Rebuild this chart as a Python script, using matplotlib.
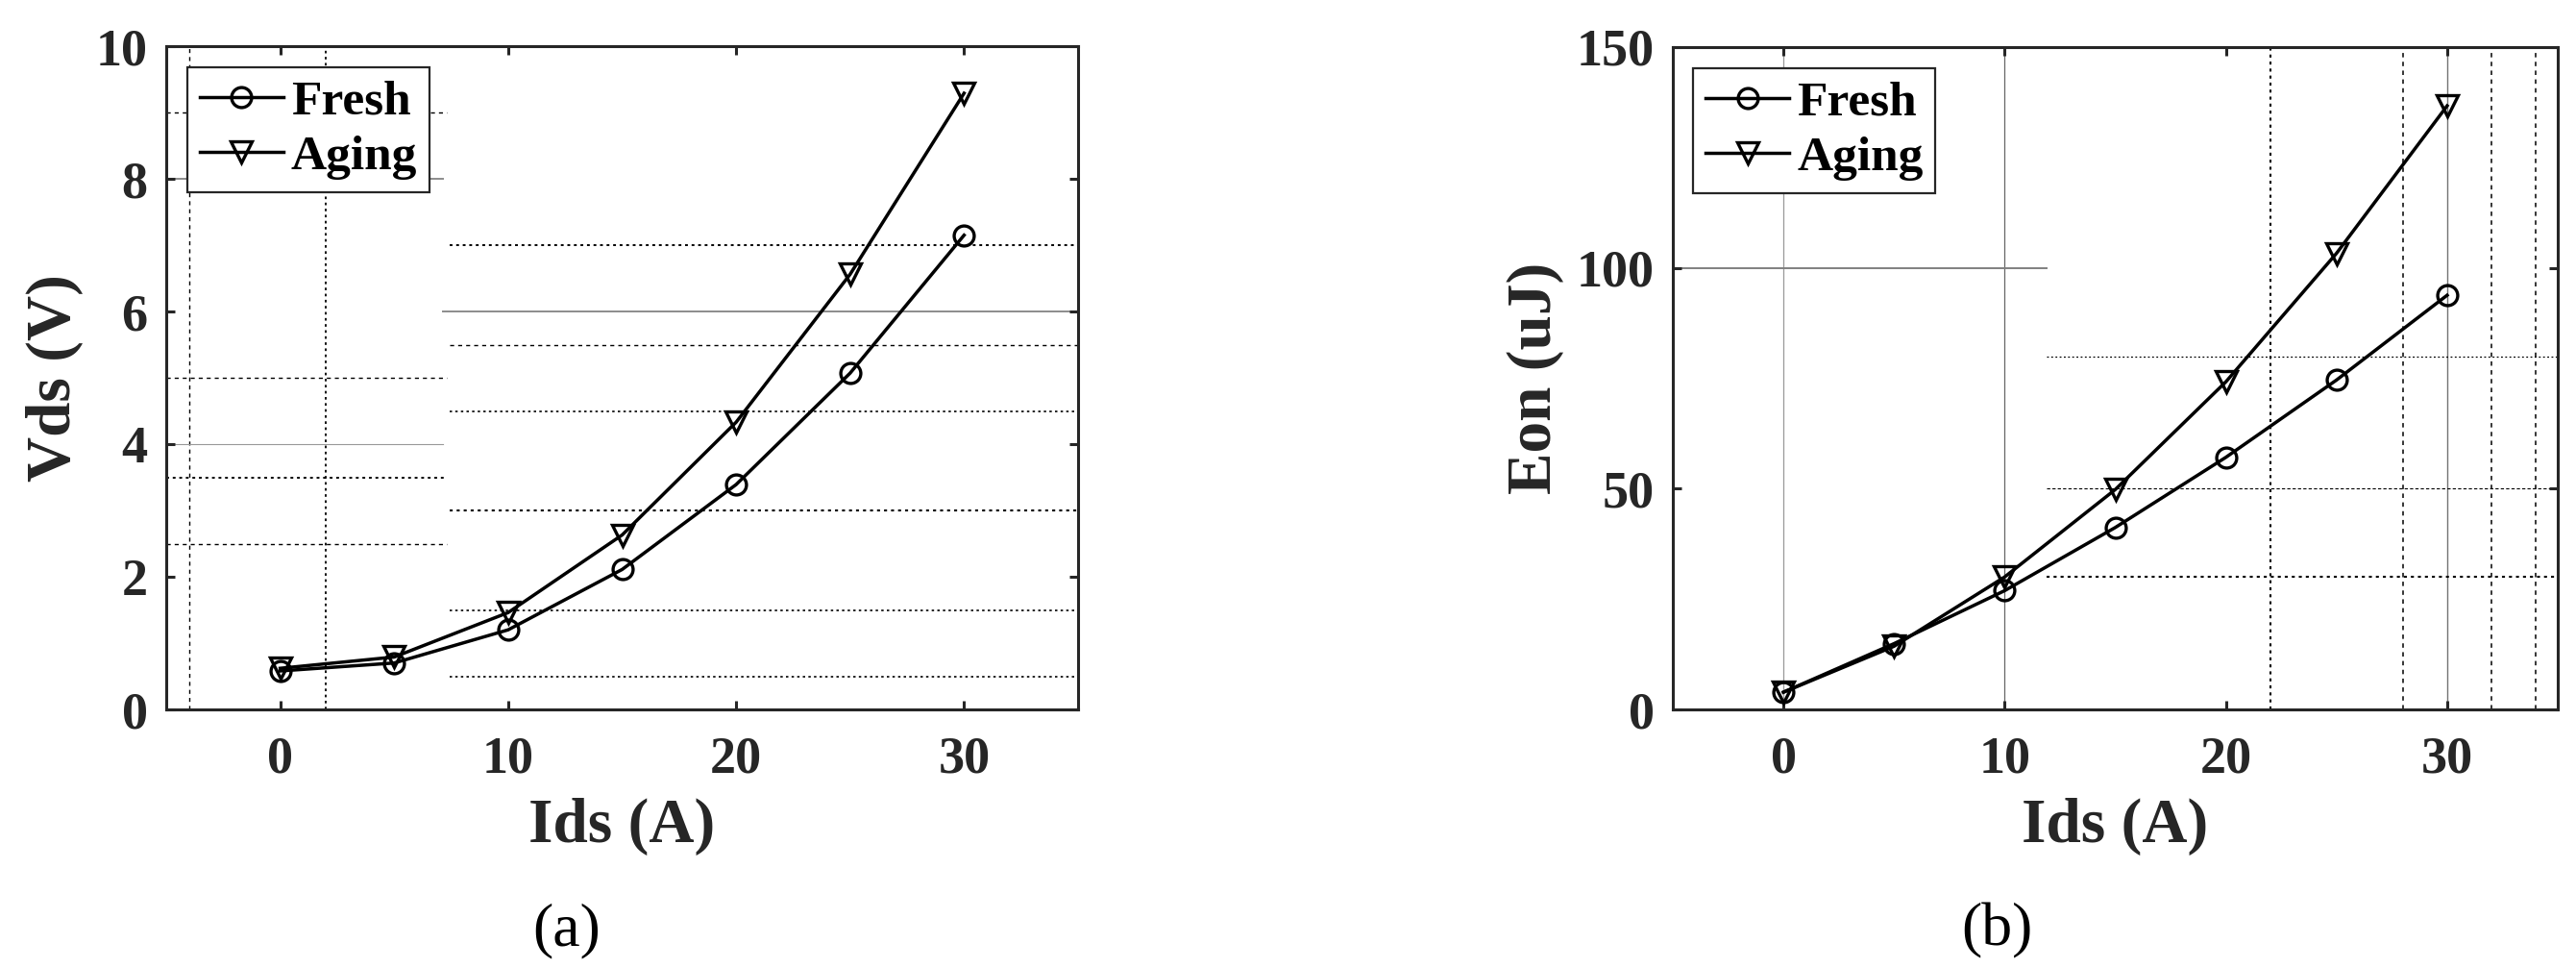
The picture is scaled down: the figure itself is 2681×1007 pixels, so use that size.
import matplotlib
matplotlib.use("Agg")
import matplotlib.pyplot as plt

# ---- data ----
ids = [0, 5, 10, 15, 20, 25, 30]
vds_fresh = [0.58, 0.70, 1.20, 2.11, 3.39, 5.07, 7.15]
vds_aging = [0.62, 0.79, 1.46, 2.63, 4.33, 6.56, 9.29]
eon_fresh = [3.9, 14.9, 26.9, 41.2, 57.1, 74.6, 93.8]
eon_aging = [3.9, 14.3, 30.0, 49.8, 74.2, 103.3, 136.7]
series_labels = ["Fresh", "Aging"]
xticks = [0, 10, 20, 30]
yticks_a = [0, 2, 4, 6, 8, 10]
yticks_b = [0, 50, 100, 150]

FONT = "Liberation Serif"
DARK = "#262626"

fig = plt.figure(figsize=(26.81, 10.07), dpi=100)
axA = fig.add_axes([173/2681, 1-738/1007, 949/2681, 690/1007])
axB = fig.add_axes([1741/2681, 1-738/1007, 921/2681, 689/1007])

def style_axes(ax, ylim, yticks, ylabel):
    ax.set_xlim(-5, 35)
    ax.set_ylim(*ylim)
    ax.set_xticks(xticks)
    ax.set_yticks(yticks)
    for s in ax.spines.values():
        s.set_linewidth(2.2)
        s.set_color(DARK)
        s.set_zorder(5)
    ax.tick_params(axis="both", direction="in", length=6.5, width=2.2,
                   color=DARK, top=True, right=True)
    ax.tick_params(axis="x", pad=20)
    ax.tick_params(axis="y", pad=14)
    for lab in ax.get_xticklabels() + ax.get_yticklabels():
        lab.set_fontfamily(FONT)
        lab.set_fontweight("bold")
        lab.set_fontsize(39)
        lab.set_color(DARK)
    ax.set_xlabel("Ids (A)", fontfamily=FONT, fontweight="bold",
                  fontsize=47, color=DARK, labelpad=10)
    ax.set_ylabel(ylabel, fontfamily=FONT, fontweight="bold",
                  fontsize=47, color=DARK, labelpad=9)

def plot_series(ax, yf, ya):
    ax.plot(ids, yf, color="black", lw=2.5, marker="o", ms=15,
            mfc="none", mec="black", mew=2.4, label=series_labels[0], zorder=4)
    ax.plot(ids, ya, color="black", lw=2.5, marker="v", ms=16,
            mfc="none", mec="black", mew=2.4, label=series_labels[1], zorder=4)
    leg = ax.legend(loc="upper left", bbox_to_anchor=(0.023, 0.968),
                    borderaxespad=0, fancybox=False, framealpha=1,
                    edgecolor=DARK, handlelength=1.7, handletextpad=0.15,
                    labelspacing=0.2, borderpad=0.25,
                    prop={"family": FONT, "weight": "bold", "size": 37})
    leg.get_frame().set_linewidth(1.6)
    leg.set_zorder(6)

# ---- panel (a) ----
plot_series(axA, vds_fresh, vds_aging)
style_axes(axA, (0, 10), yticks_a, "Vds (V)")
gd = dict(zorder=1)
# vertical full-height guide lines
axA.axvline(-4, color="black", lw=1.0, ls=(0, (3, 3)), **gd)
axA.axvline(2, color="black", lw=1.3, ls=(0, (1.5, 2)), **gd)
# horizontal guide lines, left part
axA.axhline(9, xmin=0, xmax=0.308, color="black", lw=1.0, ls=(0, (3, 3)), **gd)
axA.axhline(8, xmin=0, xmax=0.303, color="0.55", lw=1.4, **gd)
axA.axhline(5, xmin=0, xmax=0.308, color="black", lw=1.0, ls=(0, (3, 3)), **gd)
axA.axhline(4, xmin=0, xmax=0.303, color="0.6", lw=0.8, **gd)
axA.axhline(3.5, xmin=0, xmax=0.308, color="black", lw=1.4, ls=(0, (1.5, 2)), **gd)
axA.axhline(2.5, xmin=0, xmax=0.308, color="black", lw=1.0, ls=(0, (3, 3)), **gd)
# horizontal guide lines, right part
axA.axhline(7, xmin=0.311, xmax=1, color="black", lw=1.4, ls=(0, (1.5, 2)), **gd)
axA.axhline(6, xmin=0.303, xmax=1, color="0.55", lw=1.4, **gd)
axA.axhline(5.5, xmin=0.311, xmax=1, color="black", lw=1.0, ls=(0, (3, 3)), **gd)
axA.axhline(4.5, xmin=0.311, xmax=1, color="black", lw=1.2, ls=(0, (1.5, 2)), **gd)
axA.axhline(3, xmin=0.311, xmax=1, color="black", lw=1.5, ls=(0, (1.5, 2)), **gd)
axA.axhline(1.5, xmin=0.311, xmax=1, color="black", lw=1.2, ls=(0, (1.5, 2)), **gd)
axA.axhline(0.5, xmin=0.311, xmax=1, color="black", lw=1.2, ls=(0, (1.5, 2)), **gd)

# ---- panel (b) ----
plot_series(axB, eon_fresh, eon_aging)
style_axes(axB, (0, 150), yticks_b, "Eon (uJ)")
axB.axvline(0, color="0.6", lw=0.9, **gd)
axB.axvline(10, color="0.4", lw=0.9, **gd)
axB.axvline(22, color="black", lw=1.5, ls=(0, (1.5, 2)), **gd)
axB.axvline(28, color="black", lw=1.1, ls=(0, (3, 3)), **gd)
axB.axvline(30, color="0.45", lw=1.0, **gd)
axB.axvline(32, color="black", lw=1.1, ls=(0, (3, 3)), **gd)
axB.axvline(34, color="black", lw=1.1, ls=(0, (3, 3)), **gd)
axB.axhline(100, xmin=0, xmax=0.4225, color="0.5", lw=1.4, **gd)
axB.axhline(80, xmin=0.4225, xmax=1, color="black", lw=0.9, ls=(0, (1.5, 2)), **gd)
axB.axhline(50, xmin=0.4225, xmax=1, color="black", lw=0.8, ls=(0, (3, 2)), **gd)
axB.axhline(30, xmin=0.4225, xmax=1, color="black", lw=1.5, ls=(0, (1.5, 2)), **gd)

# ---- captions ----
fig.text(590/2681, 1-968/1007, "(a)", fontfamily=FONT, fontsize=46,
         ha="center", va="center", color="black")
fig.text(2078/2681, 1-968/1007, "(b)", fontfamily=FONT, fontsize=46,
         ha="center", va="center", color="black")

fig.savefig("out.png", dpi=100, facecolor="white")
